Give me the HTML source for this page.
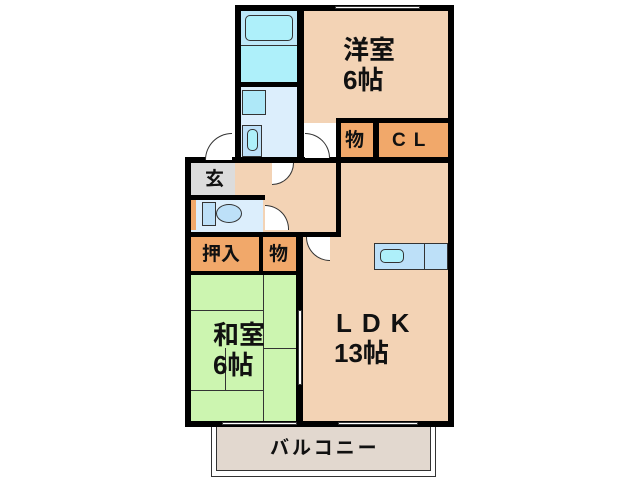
<!DOCTYPE html>
<html><head><meta charset="utf-8"><style>
body{margin:0;width:638px;height:480px;background:#fff;position:relative;overflow:hidden;font-family:"Liberation Sans","Noto Sans CJK JP",sans-serif}
div{position:absolute;box-sizing:border-box}
.w{background:#000}
.t{font-weight:bold;color:#111;line-height:1}
</style></head><body>
<!-- balcony -->
<div style="left:211px;top:425px;width:225px;height:52px;border:1px solid #333;background:#fff"></div>
<div style="left:216px;top:425px;width:215px;height:46px;border:1px solid #333;background:#e2d8cf"></div>
<div class="t" style="left:270px;top:439px;font-size:19px;letter-spacing:3px">バルコニー</div>

<!-- fills -->
<div style="left:241px;top:11px;width:56px;height:72px;background:#aef0fa"></div>
<div style="left:241px;top:11px;width:56px;height:35px;background:#bde8f8;border-bottom:1px solid #333"></div>
<div style="left:245px;top:15px;width:48px;height:26px;border:1px solid #333;border-radius:5px;background:#aef0fa"></div>
<div style="left:241px;top:87px;width:56px;height:70px;background:#dceefc"></div>
<div style="left:242px;top:90px;width:24px;height:25px;border:1px solid #333;background:#aee8f8"></div>
<div style="left:242px;top:125px;width:20px;height:32px;border:1px solid #333;background:#bde0f8"></div>
<div style="left:247px;top:129px;width:11px;height:22px;border:1px solid #333;border-radius:5px;background:#aef0fa"></div>
<div style="left:304px;top:11px;width:144px;height:112px;background:#f3d3b5"></div>
<div style="left:341px;top:123px;width:32px;height:34px;background:#f1a86a"></div>
<div style="left:379px;top:123px;width:69px;height:34px;background:#f1a86a"></div>
<div style="left:191px;top:163px;width:44px;height:32px;background:#dcdcdc"></div>
<div style="left:235px;top:163px;width:101px;height:69px;background:#f3d3b5"></div>
<div style="left:303px;top:163px;width:145px;height:259px;background:#f3d3b5"></div>
<div style="left:191px;top:195px;width:72px;height:37px;background:#dceefc"></div>
<div style="left:191px;top:200px;width:5px;height:30px;background:#f1a86a"></div>
<div style="left:202px;top:202px;width:14px;height:24px;border:1px solid #333;background:#bde0f8"></div>
<div style="left:216px;top:204px;width:26px;height:19px;border:1px solid #333;border-radius:50%;background:#bde0f8"></div>
<div style="left:191px;top:237px;width:68px;height:34px;background:#f1a86a"></div>
<div style="left:263px;top:237px;width:33px;height:34px;background:#f1a86a"></div>
<div style="left:191px;top:275px;width:106px;height:147px;background:#ccf5b0"></div>
<div style="left:191px;top:310px;width:72px;height:1px;background:#333"></div>
<div style="left:263px;top:275px;width:1px;height:147px;background:#333"></div>
<div style="left:263px;top:348px;width:34px;height:1px;background:#333"></div>
<div style="left:225px;top:348px;width:1px;height:42px;background:#333"></div>
<div style="left:191px;top:390px;width:72px;height:1px;background:#333"></div>
<div style="left:374px;top:243px;width:74px;height:27px;background:#bde0f8;border:1px solid #333"></div>
<div style="left:424px;top:243px;width:1px;height:27px;background:#333"></div>
<div style="left:380px;top:249px;width:24px;height:14px;border:1px solid #333;border-radius:5px;background:#aef0fa"></div>

<!-- walls -->
<div class="w" style="left:235px;top:5px;width:219px;height:6px"></div>
<div class="w" style="left:235px;top:5px;width:6px;height:158px"></div>
<div class="w" style="left:297px;top:5px;width:7px;height:158px"></div>
<div class="w" style="left:448px;top:5px;width:6px;height:422px"></div>
<div class="w" style="left:185px;top:157px;width:6px;height:270px"></div>
<div class="w" style="left:185px;top:157px;width:269px;height:6px"></div>
<div class="w" style="left:241px;top:82px;width:56px;height:5px"></div>
<div class="w" style="left:336px;top:118px;width:5px;height:119px"></div>
<div class="w" style="left:373px;top:118px;width:6px;height:39px"></div>
<div class="w" style="left:336px;top:118px;width:112px;height:5px"></div>
<div class="w" style="left:185px;top:195px;width:80px;height:5px"></div>
<div class="w" style="left:185px;top:232px;width:156px;height:5px"></div>
<div class="w" style="left:259px;top:232px;width:4px;height:43px"></div>
<div class="w" style="left:296px;top:232px;width:7px;height:190px"></div>
<div class="w" style="left:185px;top:271px;width:118px;height:4px"></div>
<div class="w" style="left:185px;top:421px;width:269px;height:6px"></div>
<!-- window gaps -->
<div style="left:335px;top:6px;width:85px;height:3px;background:#fff;border:1px solid #333"></div>
<div style="left:222px;top:422px;width:75px;height:3px;background:#fff;border:1px solid #333"></div>
<div style="left:338px;top:422px;width:80px;height:3px;background:#fff;border:1px solid #333"></div>
<div style="left:298px;top:310px;width:4px;height:75px;background:#fff;border:1px solid #333"></div>

<!-- doors -->
<div style="left:205px;top:133px;width:27px;height:27px;border:1px solid #333;border-bottom:none;border-right:none;border-radius:27px 0 0 0;background:#fff"></div>
<div style="left:305px;top:133px;width:25px;height:25px;border:1px solid #333;border-bottom:none;border-left:none;border-radius:0 25px 0 0;background:#fff"></div>
<div style="left:272px;top:163px;width:22px;height:22px;border:1px solid #333;border-top:none;border-left:none;border-radius:0 0 22px 0;background:#fff"></div>
<div style="left:265px;top:205px;width:24px;height:25px;border:1px solid #333;border-bottom:none;border-left:none;border-radius:0 25px 0 0;background:#fff"></div>
<div style="left:306px;top:237px;width:24px;height:24px;border:1px solid #333;border-top:none;border-right:none;border-radius:0 0 0 24px;background:#fff"></div>

<!-- labels -->
<div class="t" style="left:343px;top:37px;font-size:26px">洋室</div>
<div class="t" style="left:343px;top:67px;font-size:26px">6帖</div>
<div class="t" style="left:345px;top:131px;font-size:19px">物</div>
<div class="t" style="left:392px;top:131px;font-size:19px;letter-spacing:8px">CL</div>
<div class="t" style="left:205px;top:170px;font-size:19px">玄</div>
<div class="t" style="left:202px;top:245px;font-size:19px">押入</div>
<div class="t" style="left:269px;top:245px;font-size:19px">物</div>
<div class="t" style="left:213px;top:322px;font-size:26px">和室</div>
<div class="t" style="left:213px;top:352px;font-size:26px">6帖</div>
<div class="t" style="left:336px;top:310px;font-size:26px;letter-spacing:10px">LDK</div>
<div class="t" style="left:334px;top:340px;font-size:26px">13帖</div>
</body></html>
